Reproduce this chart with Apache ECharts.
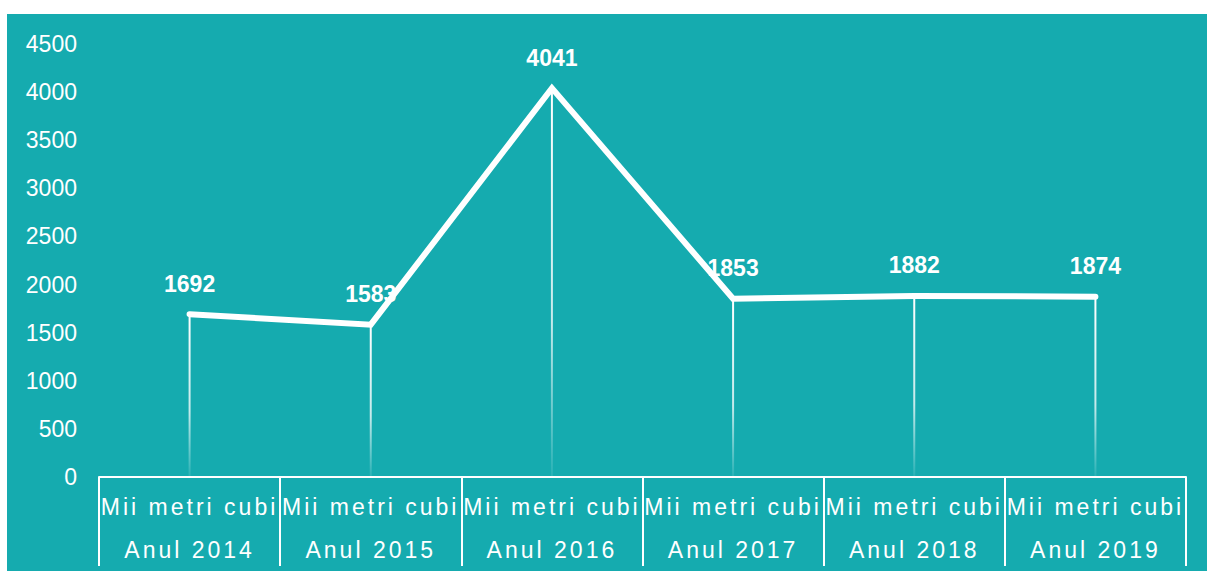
<!DOCTYPE html>
<html>
<head>
<meta charset="utf-8">
<script src="https://cdn.jsdelivr.net/npm/echarts@6/dist/echarts.min.js"></script>
<style>
  html, body { margin: 0; padding: 0; background: #ffffff; }
  #main {
    position: absolute;
    left: 7px;
    top: 14px;
    width: 1200px;
    height: 557px;
    background: #15abaf;
  }
</style>
</head>
<body>
<div id="main"></div>
<script>
// categorii (doua randuri de etichete pe axa X)
var unitLabel = "Mii metri cubi";
var years = ["Anul 2014", "Anul 2015", "Anul 2016", "Anul 2017", "Anul 2018", "Anul 2019"];
// valori
var volumes = [1692, 1583, 4041, 1853, 1882, 1874];
// axa Y
var yMin = 0;
var yMax = 4500;
var yStep = 500;

var categories = years.map(function (y) { return unitLabel + "\n" + y; });

var chart = echarts.init(document.getElementById("main"), null, { renderer: "svg" });

var FONT = "'Liberation Sans', Arial, sans-serif";

chart.setOption({
  animation: false,
  backgroundColor: "transparent",
  textStyle: { fontFamily: FONT },
  grid: {
    left: 92,
    right: 21,
    top: 30,
    bottom: 93,
    containLabel: false
  },
  xAxis: {
    type: "category",
    data: categories,
    boundaryGap: true,
    axisLine: { show: true, lineStyle: { color: "#ffffff", width: 2 } },
    axisTick: {
      show: true,
      interval: 0,
      length: 89,
      lineStyle: { color: "#ffffff", width: 2 }
    },
    axisLabel: {
      interval: 0,
      color: "#ffffff",
      fontSize: 23,
      fontFamily: FONT,
      lineHeight: 43,
      margin: 8
    },
    splitLine: { show: false }
  },
  yAxis: {
    type: "value",
    min: yMin,
    max: yMax,
    interval: yStep,
    axisLine: { show: false },
    axisTick: { show: false },
    splitLine: { show: false },
    axisLabel: {
      color: "#ffffff",
      fontSize: 23,
      fontFamily: FONT,
      margin: 22,
      formatter: function (v) { return String(v); }
    }
  },
  series: [
    {
      // linii verticale (drop lines) cu degrade
      name: "drop",
      type: "bar",
      data: volumes,
      barWidth: 2,
      z: 1,
      itemStyle: {
        color: new echarts.graphic.LinearGradient(0, 0, 0, 1, [
          { offset: 0, color: "rgba(255,255,255,1)" },
          { offset: 0.6, color: "rgba(255,255,255,0.75)" },
          { offset: 1, color: "rgba(255,255,255,0.08)" }
        ])
      },
      label: {
        show: true,
        position: "top",
        distance: 19,
        color: "#ffffff",
        fontSize: 23,
        fontWeight: "bold",
        fontFamily: FONT
      }
    },
    {
      name: "volum",
      type: "line",
      data: volumes,
      z: 3,
      showSymbol: false,
      symbol: "none",
      lineStyle: { color: "#ffffff", width: 6, cap: "round", join: "miter" }
    }
  ]
});

// spatiere intre litere pentru etichetele axei X
function spaceLabels() {
  var nodes = document.querySelectorAll("#main text");
  nodes.forEach(function (t) {
    if (/Mii|Anul/.test(t.textContent)) {
      t.setAttribute("letter-spacing", "3px");
      t.style.letterSpacing = "3px";
    }
  });
}
chart.on("finished", spaceLabels);
spaceLabels();
setTimeout(spaceLabels, 50);
</script>
</body>
</html>
